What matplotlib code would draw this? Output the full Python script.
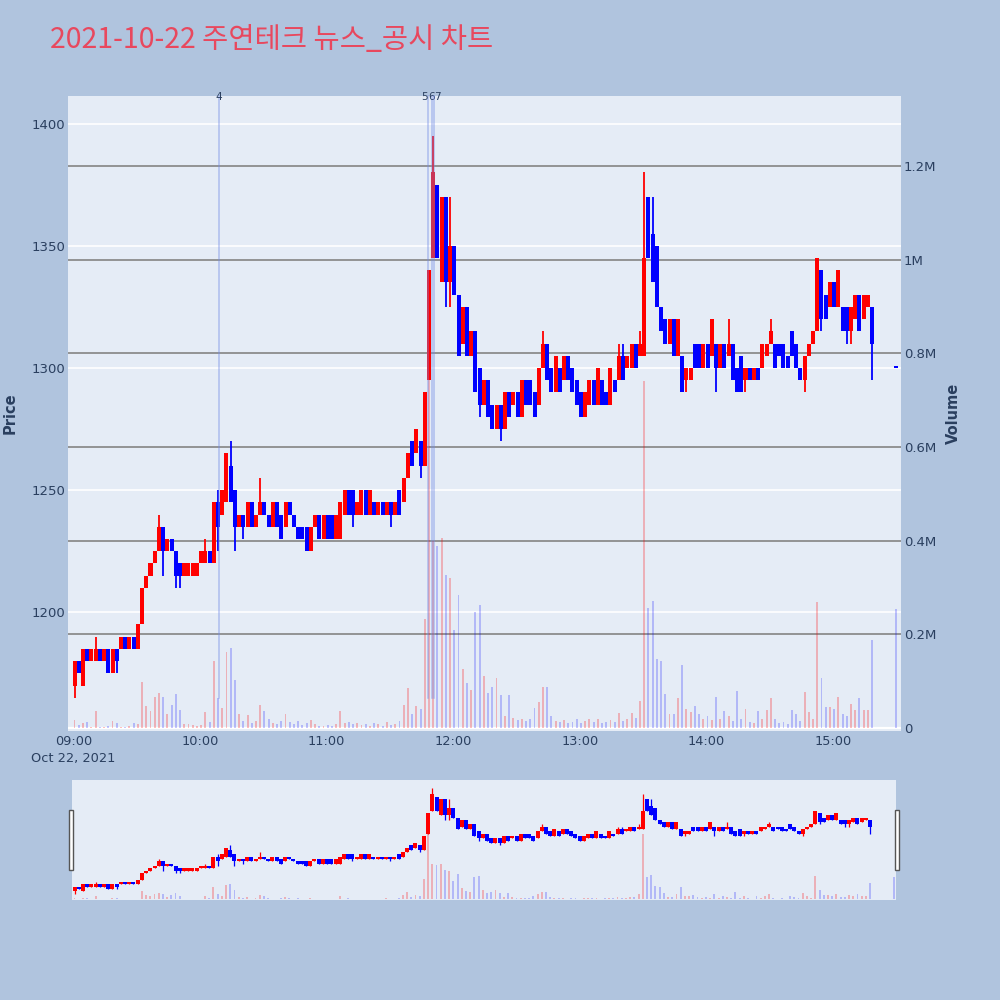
import numpy as np
import pandas as pd
import matplotlib
matplotlib.use('Agg')
import matplotlib.pyplot as plt
import matplotlib.dates as mdates
from matplotlib.patches import Rectangle

# 2분 단위로 읽어낸 시가/종가 (09:00 ~ 15:18), 마지막은 15:30 동시호가
opens = [
    1170, 1180, 1170, 1185, 1180, 1180, 1185, 1180, 1185, 1175,
    1185, 1185, 1190, 1185, 1190, 1185, 1195, 1210, 1215, 1220,
    1225, 1235, 1225, 1230, 1225, 1220, 1215, 1215, 1215, 1215,
    1220, 1220, 1225, 1220, 1245, 1240, 1245, 1260, 1250, 1235,
    1240, 1235, 1245, 1235, 1240, 1245, 1240, 1235, 1245, 1240,
    1235, 1245, 1240, 1235, 1235, 1235, 1225, 1235, 1240, 1230,
    1240, 1240, 1230, 1230, 1240, 1250, 1250, 1240, 1240, 1250,
    1240, 1245, 1240, 1245, 1240, 1245, 1240, 1250, 1245, 1255,
    1270, 1265, 1270, 1260, 1295, 1345, 1375, 1335, 1370, 1335,
    1350, 1330, 1310, 1325, 1305, 1315, 1300, 1285, 1295, 1285,
    1275, 1285, 1275, 1290, 1285, 1290, 1280, 1295, 1295, 1290,
    1285, 1300, 1310, 1300, 1290, 1300, 1295, 1305, 1300, 1295,
    1290, 1280, 1285, 1295, 1285, 1295, 1290, 1285, 1295, 1295,
    1305, 1300, 1300, 1310, 1305, 1305, 1370, 1355, 1350, 1325,
    1320, 1310, 1320, 1305, 1305, 1295, 1295, 1310, 1310, 1300,
    1310, 1305, 1310, 1300, 1310, 1305, 1310, 1300, 1305, 1295,
    1300, 1295, 1300, 1300, 1305, 1310, 1310, 1310, 1310, 1305,
    1315, 1310, 1300, 1295, 1305, 1310, 1315, 1340, 1330, 1325,
    1335, 1325, 1325, 1325, 1315, 1320, 1330, 1320, 1325, 1325,
    1300,
]
closes = [
    1180, 1175, 1185, 1180, 1185, 1185, 1180, 1185, 1175, 1185,
    1180, 1190, 1185, 1190, 1185, 1195, 1210, 1215, 1220, 1225,
    1235, 1225, 1230, 1225, 1215, 1215, 1220, 1220, 1220, 1220,
    1225, 1225, 1220, 1245, 1235, 1250, 1265, 1245, 1235, 1240,
    1235, 1245, 1235, 1240, 1245, 1240, 1235, 1245, 1235, 1230,
    1245, 1240, 1235, 1230, 1230, 1225, 1235, 1240, 1230, 1240,
    1230, 1230, 1240, 1245, 1250, 1240, 1240, 1245, 1250, 1240,
    1250, 1240, 1245, 1240, 1245, 1240, 1245, 1240, 1255, 1265,
    1260, 1275, 1260, 1290, 1340, 1380, 1345, 1370, 1335, 1350,
    1330, 1305, 1325, 1305, 1315, 1290, 1285, 1295, 1280, 1275,
    1285, 1275, 1290, 1280, 1290, 1280, 1295, 1285, 1285, 1280,
    1300, 1310, 1295, 1290, 1305, 1290, 1305, 1295, 1290, 1285,
    1280, 1290, 1295, 1285, 1300, 1285, 1285, 1300, 1290, 1305,
    1295, 1305, 1310, 1300, 1310, 1345, 1345, 1335, 1325, 1315,
    1310, 1320, 1305, 1320, 1290, 1300, 1300, 1300, 1300, 1310,
    1300, 1320, 1300, 1310, 1300, 1310, 1295, 1290, 1290, 1300,
    1295, 1300, 1295, 1310, 1310, 1315, 1300, 1305, 1300, 1300,
    1305, 1300, 1295, 1305, 1310, 1315, 1345, 1320, 1320, 1335,
    1325, 1340, 1315, 1315, 1325, 1330, 1315, 1330, 1330, 1310,
    1300,
]
# 꼬리 (몸통 밖으로 나간 고가/저가만)
wick_high = {5: 1190, 20: 1240, 31: 1230, 34: 1250, 37: 1270, 44: 1255,
             85: 1395, 89: 1370, 111: 1315, 129: 1310, 130: 1310, 134: 1315,
             135: 1380, 137: 1370, 155: 1320, 165: 1320}
wick_low = {0: 1165, 10: 1175, 21: 1215, 24: 1210, 25: 1210, 34: 1225,
            38: 1225, 40: 1230, 66: 1235, 75: 1235, 82: 1255, 88: 1325,
            89: 1325, 96: 1280, 101: 1270, 145: 1290, 152: 1290, 159: 1290,
            173: 1290, 177: 1315, 183: 1310, 184: 1310, 189: 1295}
# 거래량 (천 주)
volumes_k = [
    18, 6, 11, 12, 3, 37, 3, 2, 5, 14, 11, 3, 3, 4, 10, 8, 99, 47, 36, 66,
    74, 66, 29, 49, 72, 39, 8, 8, 6, 5, 6, 34, 12, 142, 64, 43, 163, 170, 102, 30,
    15, 28, 10, 14, 50, 36, 20, 10, 8, 14, 30, 12, 8, 15, 6, 10, 18, 8, 5, 4,
    6, 5, 8, 37, 10, 12, 8, 10, 6, 8, 5, 10, 8, 4, 12, 6, 8, 15, 50, 85,
    30, 46, 40, 233, 760, 400, 388, 405, 327, 320, 210, 284, 127, 95, 81, 248, 262, 110, 74, 88,
    107, 70, 25, 70, 22, 18, 20, 15, 20, 42, 56, 88, 88, 25, 15, 12, 18, 10, 12, 20,
    10, 15, 20, 12, 20, 10, 12, 18, 12, 33, 15, 20, 33, 22, 57, 740, 257, 271, 148, 142,
    73, 30, 30, 65, 135, 40, 35, 47, 30, 20, 25, 18, 67, 20, 37, 25, 15, 79, 20, 41,
    12, 10, 36, 20, 38, 63, 20, 10, 12, 8, 38, 29, 15, 76, 35, 20, 270, 106, 45, 45,
    40, 67, 30, 25, 52, 38, 63, 38, 38, 188,
    254,
]
# 뉴스/공시 시점
event_labels = ['4', '5', '6', '7']
event_times = ['10:09', '11:48', '11:50', '11:51']

title = '2021-10-22 주연테크 뉴스_공시 차트'
day = pd.Timestamp('2021-10-22 09:00')

# 시간축 (분 단위 위치 -> matplotlib 날짜)
n = len(opens)
minutes = np.array([2 * i + 0.5 for i in range(n - 1)] + [390.0])
x = mdates.date2num((day + pd.to_timedelta(minutes, unit='m')).to_pydatetime())
one_min = 1.0 / 1440

o = np.array(opens, dtype=float)
c = np.array(closes, dtype=float)
body_lo = np.minimum(o, c)
body_hi = np.maximum(o, c)
hi = body_hi.copy()
lo = body_lo.copy()
for k, v in wick_high.items():
    hi[k] = v
for k, v in wick_low.items():
    lo[k] = v
up = c > o
bar_colors = np.where(up, '#ff0000', '#0000ff')
vol_colors = [(1, 0, 0, 0.25) if u else (0, 0, 1, 0.22) for u in up]
vol = np.array(volumes_k) * 1000.0

PMIN, PMAX = 1151.4, 1411.3
VMIN, VMAX = -6400, 1.349e6
BG = '#b0c4de'
PLOT_BG = '#e5ecf6'
TXT = '#2a3f5f'

fig = plt.figure(figsize=(10, 10), dpi=100)
fig.patch.set_facecolor(BG)


def draw(ax_v, ax_p, x0, x1, detail=True):
    ax_v.set_facecolor(PLOT_BG)
    ax_p.patch.set_visible(False)
    for a in (ax_v, ax_p):
        for s in a.spines.values():
            s.set_visible(False)
        a.set_xlim(x0, x1)
    ax_v.set_ylim(VMIN, VMAX)
    ax_p.set_ylim(PMIN, PMAX)
    if detail:
        # 가격 격자 (흰색) - 거래량 막대 아래에 깔리도록 ax_v에 그림
        for p in range(1200, 1401, 50):
            f = (p - PMIN) / (PMAX - PMIN)
            ax_v.plot([0, 1], [f, f], transform=ax_v.transAxes, color='white',
                      lw=1.2, zorder=0.5)
        for v in np.arange(0.2e6, 1.21e6, 0.2e6):
            ax_v.axhline(v, color='#8c8c8c', lw=1.3, zorder=0.6)
        ax_v.axhline(0, color='white', lw=1.6, zorder=0.6)
    ax_v.bar(x, vol, width=0.9 * one_min, color=vol_colors, lw=0, zorder=1)
    ax_p.bar(x, np.maximum(body_hi - body_lo, 0.8), bottom=body_lo,
             width=1.9 * one_min, color=bar_colors, lw=0, zorder=2)
    ax_p.vlines(x, lo, hi, colors=bar_colors, lw=1.3 if detail else 0.9, zorder=2)


# 메인 차트
ax_vol = fig.add_axes([0.068, 0.269, 0.833, 0.635])
ax_price = ax_vol.twinx()
x0 = mdates.date2num(day - pd.Timedelta(minutes=2.6))
x1 = mdates.date2num(day + pd.Timedelta(minutes=392.2))
draw(ax_vol, ax_price, x0, x1)

# 뉴스 세로선 (겹치는 번호는 옆으로 살짝 밀어서 표시)
label_shift = [0, -2.5, -0.7, 2.5]
for lab, t, dx in zip(event_labels, event_times, label_shift):
    xe = mdates.date2num(pd.Timestamp('2021-10-22 ' + t))
    ax_price.plot([xe, xe], [1165, PMAX], color=(0.45, 0.55, 0.9, 0.5), lw=1.1,
                  zorder=3, clip_on=False)
    ax_price.annotate(lab, xy=(xe, 1.0), xycoords=('data', 'axes fraction'),
                      xytext=(dx, -1), textcoords='offset points', ha='center',
                      va='center', fontsize=7.5, color=TXT)

ax_price.yaxis.tick_left()
ax_price.set_yticks(range(1200, 1401, 50))
ax_price.tick_params(axis='y', length=0, pad=2, labelsize=9.5, labelcolor=TXT)
ax_vol.yaxis.tick_right()
ax_vol.set_yticks(np.arange(0, 1.21e6, 0.2e6))
ax_vol.set_yticklabels(['0', '0.2M', '0.4M', '0.6M', '0.8M', '1M', '1.2M'])
ax_vol.tick_params(axis='y', length=0, pad=2, labelsize=9.5, labelcolor=TXT)

hours = [mdates.date2num(day + pd.Timedelta(hours=h)) for h in range(7)]
hour_labels = ['%02d:00' % (9 + h) for h in range(7)]
hour_labels[0] = '09:00\nOct 22, 2021'
ax_vol.set_xticks(hours)
ax_vol.set_xticklabels(hour_labels, linespacing=1.35)
ax_vol.tick_params(axis='x', length=0, pad=3, labelsize=9.3, labelcolor=TXT)
ax_price.tick_params(axis='x', length=0, labelbottom=False)

fig.text(0.010, 0.587, 'Price', rotation=90, ha='center', va='center',
         fontsize=10.5, fontweight='bold', color=TXT)
fig.text(0.953, 0.587, 'Volume', rotation=90, ha='center', va='center',
         fontsize=10.5, fontweight='bold', color=TXT)
fig.text(0.05, 0.960, title, ha='left', va='center', fontsize=20.5,
         color='#e8485e', family=['Noto Sans CJK KR', 'DejaVu Sans'])

# 레인지 슬라이더
ax_s = fig.add_axes([0.072, 0.100, 0.824, 0.120])
ax_s2 = ax_s.twinx()
s0 = mdates.date2num(day - pd.Timedelta(minutes=0.7))
s1 = mdates.date2num(day + pd.Timedelta(minutes=390.8))
draw(ax_s, ax_s2, s0, s1, detail=False)
for a in (ax_s, ax_s2):
    a.set_xticks([])
    a.set_yticks([])

for hx in (0.0688, 0.8945):
    fig.patches.append(Rectangle((hx, 0.130), 0.0044, 0.060, transform=fig.transFigure,
                                 facecolor='white', edgecolor='#555555', lw=1))

fig.savefig('out.png', dpi=100, facecolor=BG)
